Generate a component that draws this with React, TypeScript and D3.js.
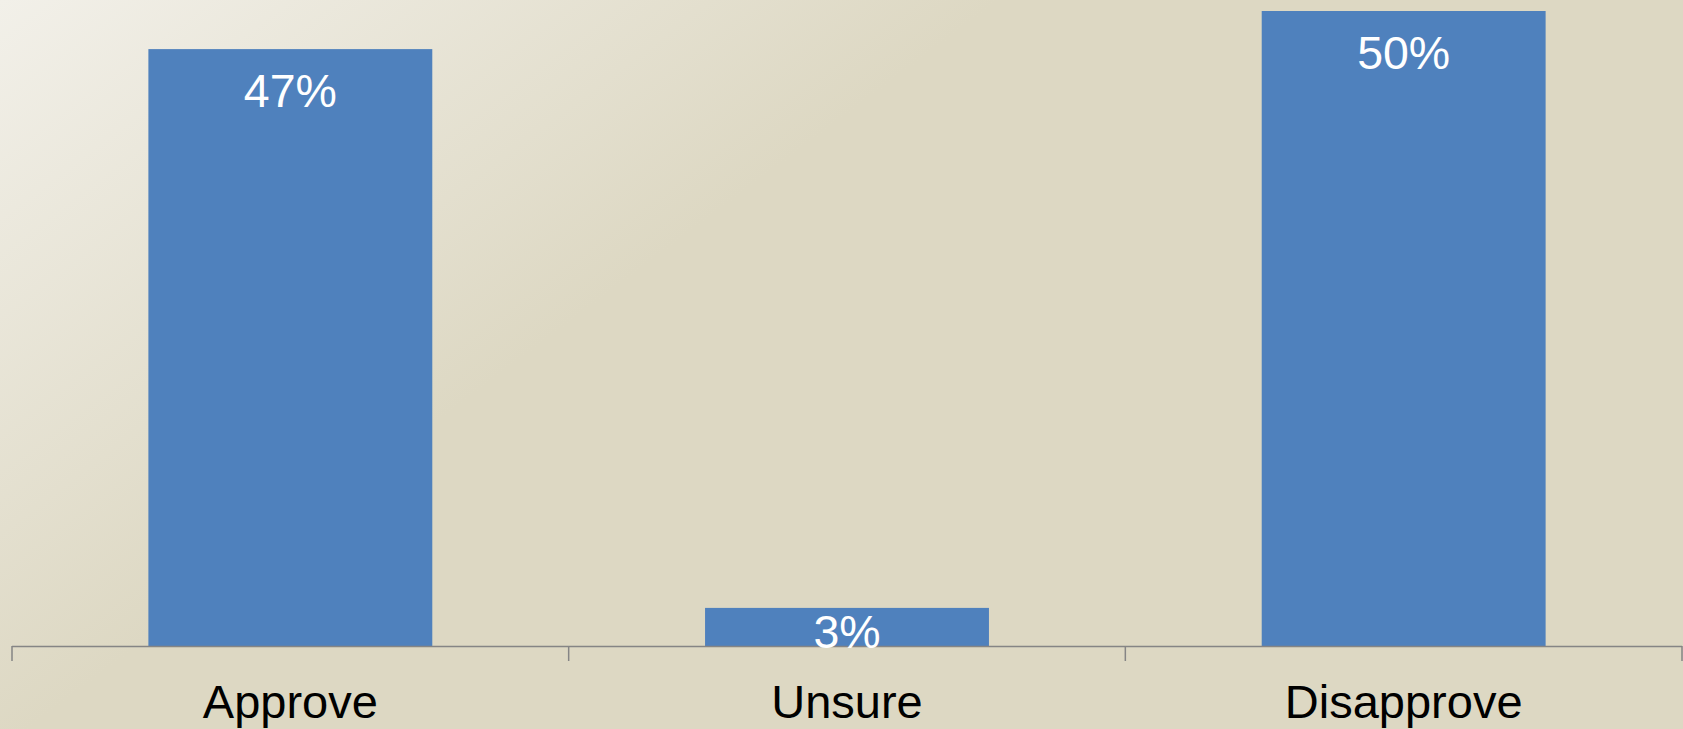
import React, { useEffect, useRef } from 'react';
import * as d3 from 'd3';

const categories = ['Approve', 'Unsure', 'Disapprove'];
const values = [47, 3, 50];
const valueLabels = ['47%', '3%', '50%'];

const WIDTH = 1683;
const HEIGHT = 729;

const App: React.FC = () => {
  const svgRef = useRef<SVGSVGElement>(null);

  useEffect(() => {
    if (!svgRef.current) return;
    const svg = d3.select(svgRef.current);
    svg.selectAll('*').remove();

    const axisLeft = 12;
    const axisRight = 1682;
    const baseline = 646;

    // background gradient
    const defs = svg.append('defs');
    const grad = defs.append('linearGradient')
      .attr('id', 'bg')
      .attr('gradientUnits', 'userSpaceOnUse')
      .attr('x1', 0).attr('y1', 0)
      .attr('x2', 360).attr('y2', 480);
    grad.append('stop').attr('offset', 0).attr('stop-color', '#f2f0e9');
    grad.append('stop').attr('offset', 1).attr('stop-color', '#ddd8c3');

    svg.append('rect')
      .attr('width', WIDTH)
      .attr('height', HEIGHT)
      .attr('fill', 'url(#bg)');

    const xScale = d3.scaleBand<string>()
      .domain(categories)
      .range([axisLeft, axisRight])
      .paddingInner(0.49)
      .paddingOuter(0.245);

    const yScale = d3.scaleLinear()
      .domain([0, 50])
      .range([baseline, 11]);

    const data = categories.map((c, i) => ({ cat: c, value: values[i], label: valueLabels[i] }));

    // bars
    svg.selectAll('rect.bar')
      .data(data)
      .enter()
      .append('rect')
      .attr('class', 'bar')
      .attr('x', d => xScale(d.cat)!)
      .attr('y', d => yScale(d.value))
      .attr('width', xScale.bandwidth())
      .attr('height', d => baseline - yScale(d.value))
      .attr('fill', '#4f81bd');

    // axis line + ticks between categories
    const step = (axisRight - axisLeft) / categories.length;
    const tickXs = d3.range(categories.length + 1).map(i => axisLeft + i * step);
    svg.append('line')
      .attr('x1', axisLeft).attr('x2', axisRight)
      .attr('y1', baseline + 0.5).attr('y2', baseline + 0.5)
      .attr('stroke', '#858585')
      .attr('stroke-width', 1.5);
    svg.selectAll('line.tick')
      .data(tickXs)
      .enter()
      .append('line')
      .attr('class', 'tick')
      .attr('x1', d => d).attr('x2', d => d)
      .attr('y1', baseline).attr('y2', baseline + 15)
      .attr('stroke', '#858585')
      .attr('stroke-width', 1.5);

    // value labels
    svg.selectAll('text.value')
      .data(data)
      .enter()
      .append('text')
      .attr('class', 'value')
      .attr('x', d => xScale(d.cat)! + xScale.bandwidth() / 2)
      .attr('y', d => {
        const top = yScale(d.value);
        const h = baseline - top;
        return h > 70 ? top + 58 : top + h / 2 + 21;
      })
      .attr('text-anchor', 'middle')
      .attr('fill', '#ffffff')
      .attr('font-family', 'Liberation Sans, Arial, sans-serif')
      .attr('font-size', 46.5)
      .text(d => d.label);

    // category labels
    svg.selectAll('text.cat')
      .data(data)
      .enter()
      .append('text')
      .attr('class', 'cat')
      .attr('x', d => xScale(d.cat)! + xScale.bandwidth() / 2)
      .attr('y', 718)
      .attr('text-anchor', 'middle')
      .attr('fill', '#000000')
      .attr('font-family', 'Liberation Sans, Arial, sans-serif')
      .attr('font-size', 47)
      .text(d => d.cat);
  }, []);

  return (
    <svg
      ref={svgRef}
      width={WIDTH}
      height={HEIGHT}
      style={{ position: 'absolute', left: 0, top: 0, display: 'block' }}
    />
  );
};

export default App;
